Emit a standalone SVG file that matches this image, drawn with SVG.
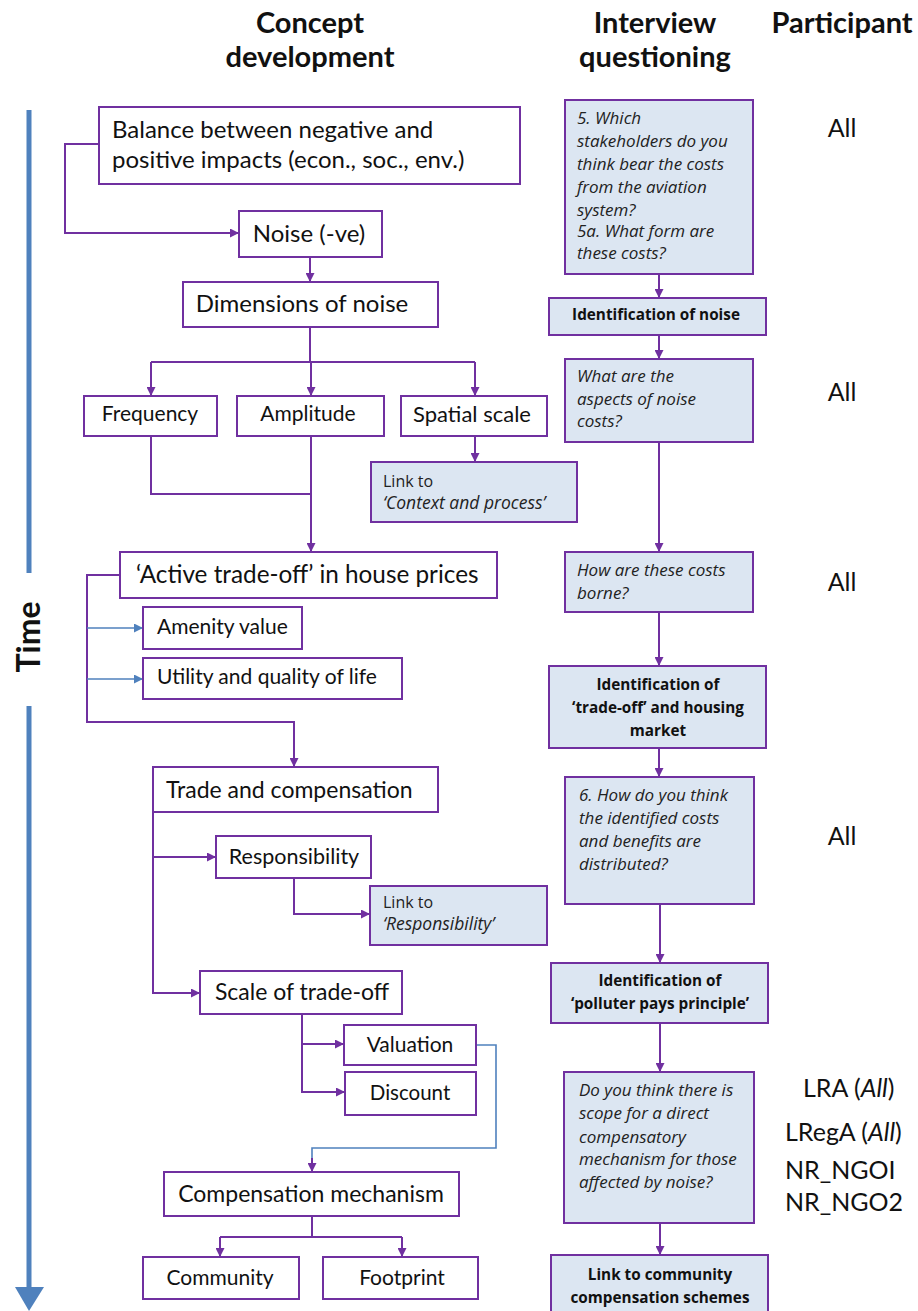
<svg xmlns="http://www.w3.org/2000/svg" width="918" height="1311" viewBox="0 0 918 1311">
<style>
.box{fill:#ffffff;stroke:#7030A0;stroke-width:2}
.qbox{fill:#DCE6F2;stroke:#7030A0;stroke-width:2}
.c{fill:none;stroke:#7030A0;stroke-width:2}
.cb{fill:none;stroke:#4F81BD;stroke-width:1.6}
.hd{font-family:Lato,"Liberation Sans",sans-serif;font-weight:bold;font-size:29px;fill:#111;text-anchor:middle}
.t{font-family:Lato,"Liberation Sans",sans-serif;fill:#111}
.tm{font-family:Lato,"Liberation Sans",sans-serif;fill:#111;text-anchor:middle}
.q{font-family:"Open Sans","Liberation Sans",sans-serif;font-style:italic;font-size:17px;fill:#222}
.qb{font-family:"Open Sans","Liberation Sans",sans-serif;font-weight:bold;font-size:15.3px;fill:#111;text-anchor:middle}
.s{font-family:"Open Sans","Liberation Sans",sans-serif;font-size:16px;fill:#222}
.si{font-family:"Open Sans","Liberation Sans",sans-serif;font-size:17.5px;font-style:italic;fill:#222}
.p{font-family:Lato,"Liberation Sans",sans-serif;font-size:25px;fill:#111}
</style>
<defs>
<marker id="ap" viewBox="0 0 10 10" refX="10" refY="5" markerWidth="9" markerHeight="9" markerUnits="userSpaceOnUse" orient="auto"><path d="M0,0 L10,5 L0,10 z" fill="#7030A0"/></marker>
<marker id="ab" viewBox="0 0 10 10" refX="10" refY="5" markerWidth="9" markerHeight="9" markerUnits="userSpaceOnUse" orient="auto"><path d="M0,0 L10,5 L0,10 z" fill="#4F81BD"/></marker>
</defs>

<g id="headers">
<text class="hd" x="310" y="33">Concept</text>
<text class="hd" x="310" y="67">development</text>
<text class="hd" x="655" y="33">Interview</text>
<text class="hd" x="655" y="67">questioning</text>
<text class="hd" x="842" y="33">Participant</text>
</g>

<g id="timeline">
<rect x="26.5" y="110" width="5" height="463" fill="#4F81BD"/>
<rect x="26.5" y="706" width="5" height="582" fill="#4F81BD"/>
<polygon points="15,1287 44,1287 29,1311" fill="#4F81BD"/>
<text x="40" y="637" transform="rotate(-90 40 637)" text-anchor="middle" font-family="Lato,'Liberation Sans',sans-serif" font-weight="bold" font-size="32" fill="#111">Time</text>
</g>

<g id="connectors">
<polyline class="c" points="99,144 65,144 65,233 239,233" marker-end="url(#ap)"/>
<line class="c" x1="310" y1="257" x2="310" y2="282" marker-end="url(#ap)"/>
<polyline class="c" points="310,327 310,362"/>
<polyline class="c" points="151,362 475,362"/>
<line class="c" x1="151" y1="362" x2="151" y2="396" marker-end="url(#ap)"/>
<line class="c" x1="311" y1="362" x2="311" y2="396" marker-end="url(#ap)"/>
<line class="c" x1="475" y1="362" x2="475" y2="396" marker-end="url(#ap)"/>
<line class="c" x1="475" y1="436" x2="475" y2="462" marker-end="url(#ap)"/>
<polyline class="c" points="151,436 151,494 311,494"/>
<line class="c" x1="311" y1="436" x2="311" y2="552" marker-end="url(#ap)"/>
<polyline class="c" points="120,575 87,575 87,722 294,722 294,767" marker-end="url(#ap)"/>
<line class="cb" x1="87" y1="628" x2="143" y2="628" marker-end="url(#ab)"/>
<line class="cb" x1="87" y1="679" x2="143" y2="679" marker-end="url(#ab)"/>
<polyline class="c" points="153,812 153,993 200,993" marker-end="url(#ap)"/>
<line class="c" x1="153" y1="857" x2="216" y2="857" marker-end="url(#ap)"/>
<polyline class="c" points="294,878 294,914 370,914" marker-end="url(#ap)"/>
<polyline class="c" points="302,1014 302,1092 345,1092" marker-end="url(#ap)"/>
<line class="c" x1="302" y1="1044" x2="344" y2="1044" marker-end="url(#ap)"/>
<polyline class="cb" points="476,1045 496,1045 496,1148 312,1148 312,1160"/>
<line class="c" x1="312" y1="1158" x2="312" y2="1172" marker-end="url(#ap)"/>
<polyline class="c" points="312,1216 312,1237"/>
<polyline class="c" points="220,1237 402,1237"/>
<line class="c" x1="220" y1="1237" x2="220" y2="1257" marker-end="url(#ap)"/>
<line class="c" x1="402" y1="1237" x2="402" y2="1257" marker-end="url(#ap)"/>
<line class="c" x1="659" y1="274" x2="659" y2="298" marker-end="url(#ap)"/>
<line class="c" x1="659" y1="335" x2="659" y2="359" marker-end="url(#ap)"/>
<line class="c" x1="659" y1="442" x2="659" y2="552" marker-end="url(#ap)"/>
<line class="c" x1="659" y1="612" x2="659" y2="666" marker-end="url(#ap)"/>
<line class="c" x1="659" y1="748" x2="659" y2="777" marker-end="url(#ap)"/>
<line class="c" x1="660" y1="904" x2="660" y2="963" marker-end="url(#ap)"/>
<line class="c" x1="660" y1="1023" x2="660" y2="1072" marker-end="url(#ap)"/>
<line class="c" x1="660" y1="1223" x2="660" y2="1255" marker-end="url(#ap)"/>
</g>

<g id="n-balance"><rect class="box" x="99" y="107" width="421" height="77"/>
<text class="t" x="112" y="138" style="font-size:24px">Balance between negative and</text>
<text class="t" x="112" y="168" style="font-size:24px">positive impacts (econ., soc., env.)</text></g>
<g id="n-noise"><rect class="box" x="239" y="211" width="143" height="46"/>
<text class="tm" x="309" y="242" style="font-size:24px">Noise (-ve)</text></g>
<g id="n-dimensions"><rect class="box" x="183" y="282" width="255" height="45"/>
<text class="tm" x="302" y="312" style="font-size:24px">Dimensions of noise</text></g>
<g id="n-frequency"><rect class="box" x="84" y="396" width="133" height="40"/>
<text class="tm" x="150" y="421" style="font-size:21px">Frequency</text></g>
<g id="n-amplitude"><rect class="box" x="237" y="396" width="147" height="40"/>
<text class="tm" x="308" y="421" style="font-size:21px">Amplitude</text></g>
<g id="n-spatial"><rect class="box" x="401" y="396" width="146" height="40"/>
<text class="tm" x="472" y="422" style="font-size:22px">Spatial scale</text></g>
<g id="n-link-context"><rect class="qbox" x="371" y="462" width="206" height="60"/>
<text class="s" x="383" y="487">Link to</text>
<text class="si" x="383" y="509">‘Context and process’</text></g>
<g id="n-active"><rect class="box" x="120" y="552" width="377" height="46"/>
<text class="t" x="136" y="583" style="font-size:24.3px">‘Active trade-off’ in house prices</text></g>
<g id="n-amenity"><rect class="box" x="143" y="607" width="159" height="42"/>
<text class="t" x="157" y="634" style="font-size:21px">Amenity value</text></g>
<g id="n-utility"><rect class="box" x="143" y="658" width="259" height="41"/>
<text class="t" x="157" y="684" style="font-size:21px">Utility and quality of life</text></g>
<g id="n-trade"><rect class="box" x="153" y="767" width="285" height="45"/>
<text class="t" x="166" y="798" style="font-size:23px">Trade and compensation</text></g>
<g id="n-responsibility"><rect class="box" x="216" y="836" width="155" height="42"/>
<text class="tm" x="294" y="864" style="font-size:21.5px">Responsibility</text></g>
<g id="n-link-resp"><rect class="qbox" x="370" y="886" width="177" height="59"/>
<text class="s" x="383" y="908">Link to</text>
<text class="si" x="383" y="930">‘Responsibility’</text></g>
<g id="n-scale"><rect class="box" x="200" y="971" width="202" height="43"/>
<text class="tm" x="302" y="1000" style="font-size:23px">Scale of trade-off</text></g>
<g id="n-valuation"><rect class="box" x="344" y="1025" width="132" height="40"/>
<text class="tm" x="410" y="1052" style="font-size:21px">Valuation</text></g>
<g id="n-discount"><rect class="box" x="345" y="1072" width="131" height="43"/>
<text class="tm" x="410" y="1100" style="font-size:20.5px">Discount</text></g>
<g id="n-compmech"><rect class="box" x="164" y="1172" width="295" height="44"/>
<text class="tm" x="311" y="1202" style="font-size:23px">Compensation mechanism</text></g>
<g id="n-community"><rect class="box" x="143" y="1257" width="156" height="42"/>
<text class="tm" x="220" y="1285" style="font-size:21px">Community</text></g>
<g id="n-footprint"><rect class="box" x="323" y="1257" width="155" height="42"/>
<text class="tm" x="402" y="1285" style="font-size:21px">Footprint</text></g>

<g id="q-5"><rect class="qbox" x="565" y="100" width="188" height="174"/>
<text class="q" x="577" y="124">5. Which</text>
<text class="q" x="577" y="147">stakeholders do you</text>
<text class="q" x="577" y="170">think bear the costs</text>
<text class="q" x="577" y="193">from the aviation</text>
<text class="q" x="577" y="216">system?</text>
<text class="q" x="577" y="237">5a. What form are</text>
<text class="q" x="577" y="259">these costs?</text></g>
<g id="q-ident-noise"><rect class="qbox" x="549" y="298" width="217" height="37"/>
<text class="qb" x="656" y="320">Identification of noise</text></g>
<g id="q-aspects"><rect class="qbox" x="565" y="359" width="188" height="83"/>
<text class="q" x="577" y="382">What are the</text>
<text class="q" x="577" y="405">aspects of noise</text>
<text class="q" x="577" y="427">costs?</text></g>
<g id="q-borne"><rect class="qbox" x="565" y="552" width="188" height="60"/>
<text class="q" x="577" y="576">How are these costs</text>
<text class="q" x="577" y="599">borne?</text></g>
<g id="q-ident-trade"><rect class="qbox" x="549" y="666" width="217" height="82"/>
<text class="qb" x="658" y="690">Identification of</text>
<text class="qb" x="658" y="713">‘trade-off’ and housing</text>
<text class="qb" x="658" y="736">market</text></g>
<g id="q-6"><rect class="qbox" x="565" y="777" width="189" height="127"/>
<text class="q" x="579" y="801">6. How do you think</text>
<text class="q" x="579" y="824">the identified costs</text>
<text class="q" x="579" y="847">and benefits are</text>
<text class="q" x="579" y="870">distributed?</text></g>
<g id="q-polluter"><rect class="qbox" x="551" y="963" width="217" height="60"/>
<text class="qb" x="660" y="986">Identification of</text>
<text class="qb" x="660" y="1009">‘polluter pays principle’</text></g>
<g id="q-direct"><rect class="qbox" x="564" y="1072" width="190" height="151"/>
<text class="q" x="579" y="1096">Do you think there is</text>
<text class="q" x="579" y="1119">scope for a direct</text>
<text class="q" x="579" y="1143">compensatory</text>
<text class="q" x="579" y="1165">mechanism for those</text>
<text class="q" x="579" y="1188">affected by noise?</text></g>
<g id="q-community"><rect class="qbox" x="551" y="1255" width="217" height="60"/>
<text class="qb" x="660" y="1280">Link to community</text>
<text class="qb" x="660" y="1303">compensation schemes</text></g>

<g id="participants">
<text class="p" x="842" y="137" text-anchor="middle">All</text>
<text class="p" x="842" y="401" text-anchor="middle">All</text>
<text class="p" x="842" y="591" text-anchor="middle">All</text>
<text class="p" x="842" y="845" text-anchor="middle">All</text>
<text class="p" x="803" y="1097">LRA (<tspan font-style="italic">All</tspan>)</text>
<text class="p" x="785" y="1141">LRegA (<tspan font-style="italic">All</tspan>)</text>
<text class="p" x="785" y="1179">NR_NGOI</text>
<text class="p" x="785" y="1211">NR_NGO2</text>
</g>
</svg>
